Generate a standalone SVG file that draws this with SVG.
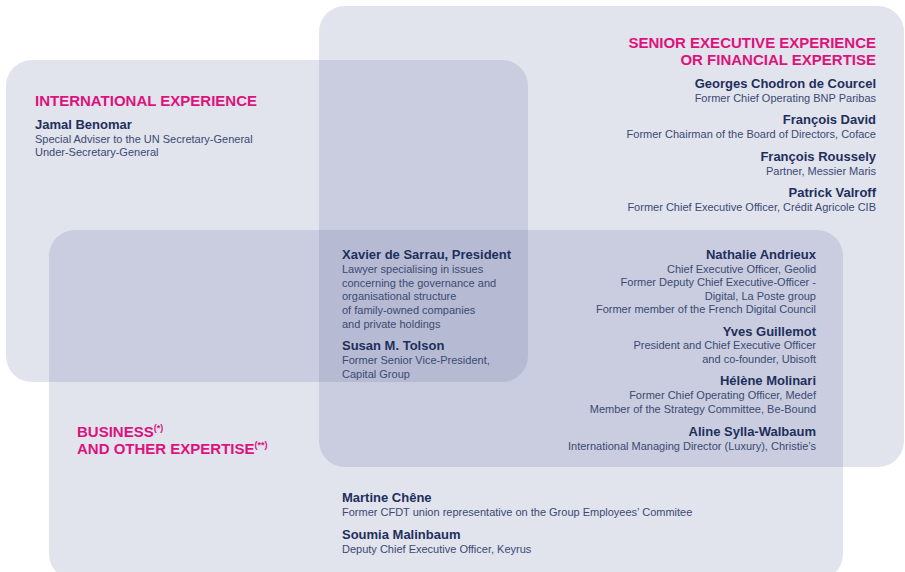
<svg xmlns="http://www.w3.org/2000/svg" width="905" height="572" viewBox="0 0 905 572">
<style>
.box{fill:#737daa;fill-opacity:0.21}
.t{font-family:"Liberation Sans",Arial,sans-serif;font-weight:bold;font-size:15px;fill:#dc137c}
.n{font-family:"Liberation Sans",Arial,sans-serif;font-weight:bold;font-size:13px;fill:#1e2f5c}
.d{font-family:"Liberation Sans",Arial,sans-serif;font-size:11px;fill:#3b4a72}
.r{text-anchor:end}
.sup{font-size:9px}
</style>
<rect width="905" height="572" fill="#ffffff"/>
<g id="senior">
<rect class="box" x="319" y="6" width="585" height="461" rx="26"/>
<text class="t r" x="876" y="48">SENIOR EXECUTIVE EXPERIENCE</text>
<text class="t r" x="876" y="65">OR FINANCIAL EXPERTISE</text>
<text class="n r" x="876" y="88">Georges Chodron de Courcel</text>
<text class="d r" x="876" y="102">Former Chief Operating BNP Paribas</text>
<text class="n r" x="876" y="124">François David</text>
<text class="d r" x="876" y="138">Former Chairman of the Board of Directors, Coface</text>
<text class="n r" x="876" y="161">François Roussely</text>
<text class="d r" x="876" y="175">Partner, Messier Maris</text>
<text class="n r" x="876" y="197">Patrick Valroff</text>
<text class="d r" x="876" y="211">Former Chief Executive Officer, Crédit Agricole CIB</text>
</g>
<g id="international">
<rect class="box" x="6" y="60" width="522" height="322" rx="26"/>
<text class="t" x="35" y="106">INTERNATIONAL EXPERIENCE</text>
<text class="n" x="35" y="129">Jamal Benomar</text>
<text class="d" x="35" y="143">Special Adviser to the UN Secretary-General</text>
<text class="d" x="35" y="156">Under-Secretary-General</text>
</g>
<g id="business">
<rect class="box" x="49" y="230" width="794" height="350" rx="26"/>
<text class="t" x="77" y="437">BUSINESS<tspan class="sup" dy="-6">(*)</tspan></text>
<text class="t" x="77" y="454">AND OTHER EXPERTISE<tspan class="sup" dy="-6">(**)</tspan></text>
<text class="n r" x="816" y="259">Nathalie Andrieux</text>
<text class="d r" x="816" y="273">Chief Executive Officer, Geolid</text>
<text class="d r" x="816" y="286">Former Deputy Chief Executive-Officer -</text>
<text class="d r" x="816" y="300">Digital, La Poste group</text>
<text class="d r" x="816" y="313">Former member of the French Digital Council</text>
<text class="n r" x="816" y="336">Yves Guillemot</text>
<text class="d r" x="816" y="349">President and Chief Executive Officer</text>
<text class="d r" x="816" y="363">and co-founder, Ubisoft</text>
<text class="n r" x="816" y="385">Hélène Molinari</text>
<text class="d r" x="816" y="399">Former Chief Operating Officer, Medef</text>
<text class="d r" x="816" y="413">Member of the Strategy Committee, Be-Bound</text>
<text class="n r" x="816" y="436">Aline Sylla-Walbaum</text>
<text class="d r" x="816" y="450">International Managing Director (Luxury), Christie’s</text>
<text class="n" x="342" y="502">Martine Chêne</text>
<text class="d" x="342" y="516">Former CFDT union representative on the Group Employees’ Commitee</text>
<text class="n" x="342" y="539">Soumia Malinbaum</text>
<text class="d" x="342" y="553">Deputy Chief Executive Officer, Keyrus</text>
</g>
<g id="all-three">
<text class="n" x="342" y="259">Xavier de Sarrau, President</text>
<text class="d" x="342" y="273">Lawyer specialising in issues</text>
<text class="d" x="342" y="287">concerning the governance and</text>
<text class="d" x="342" y="300">organisational structure</text>
<text class="d" x="342" y="314">of family-owned companies</text>
<text class="d" x="342" y="328">and private holdings</text>
<text class="n" x="342" y="350">Susan M. Tolson</text>
<text class="d" x="342" y="364">Former Senior Vice-President,</text>
<text class="d" x="342" y="378">Capital Group</text>
</g>
<g id="connectors"/>
</svg>
